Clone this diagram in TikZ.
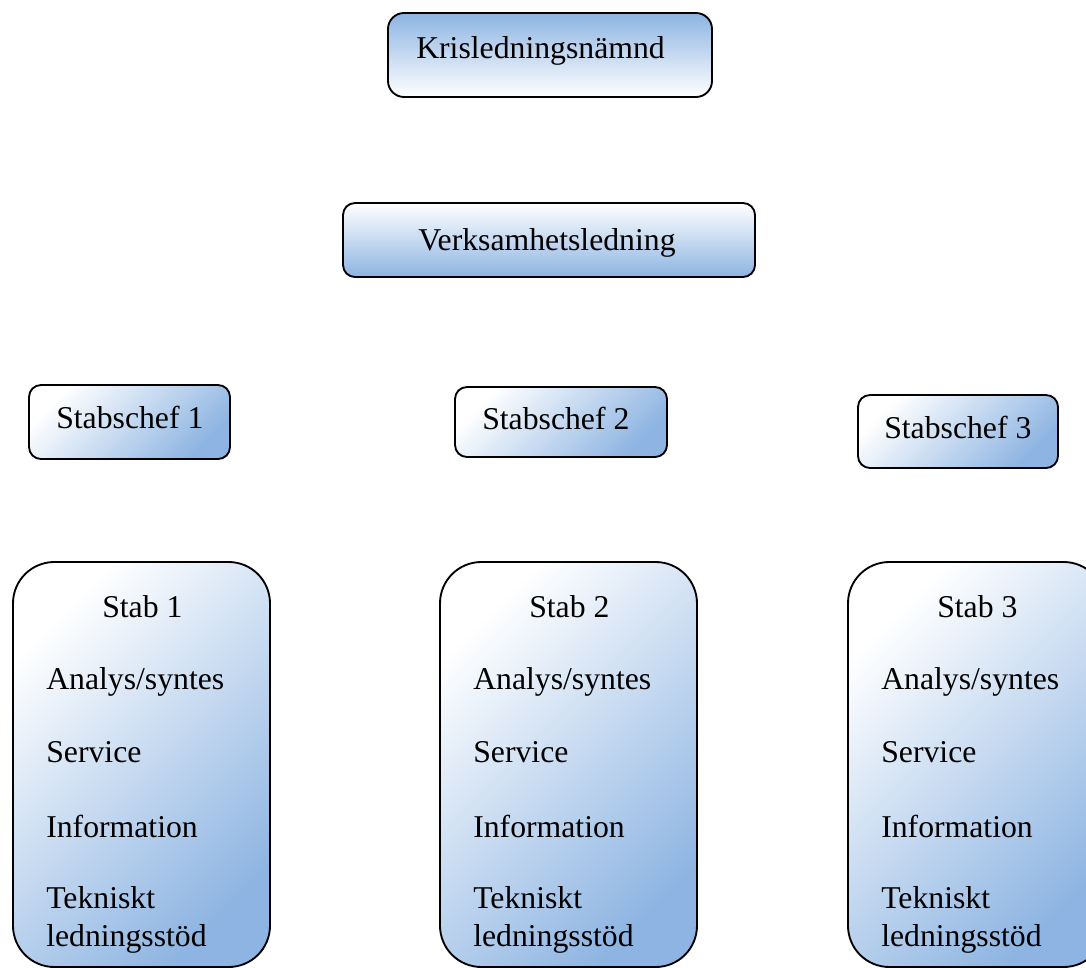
\documentclass[tikz,border=0pt]{standalone}
\usepackage{fontspec}
\setmainfont{Liberation Serif}
\usepackage{xcolor}

\definecolor{boxblue}{RGB}{141,180,226}

\tikzset{
  every node/.style={inner sep=0.75pt, font=\fontsize{23.8}{28}\selectfont},
  box/.style={draw=black, line width=1.4pt},
  boxdown/.style={box, top color=boxblue, bottom color=white},
  boxup/.style={box, top color=white, bottom color=boxblue},
  boxdiag/.style={box, top color=white, bottom color=boxblue, shading angle=45},
}

\begin{document}
\begin{tikzpicture}[x=0.75pt,y=0.75pt,yscale=-1,xscale=1]
        \useasboundingbox (0,0) rectangle (1086,968);
        \clip (0,0) rectangle (1086,968);

        %Shape: Rounded Rect [Krisledningsnämnd]
        \draw[boxdown, rounded corners=12pt] (388,13) rectangle (712,97);
        %Shape: Rounded Rect [Verksamhetsledning]
        \draw[boxup, rounded corners=9pt] (343,203) rectangle (755,277);

        %Shape: Rounded Rect [Stabschef 1-3]
        \draw[boxdiag, rounded corners=9pt] (29,385) rectangle (230,459);
        \draw[boxdiag, rounded corners=9pt] (455,387) rectangle (667,457);
        \draw[boxdiag, rounded corners=9pt] (858,395) rectangle (1058,468);

        % Text Node
        \node[anchor=base west] (kris) at (415,58) {Krisledningsnämnd};
        % Text Node
        \node[anchor=base west] (verk) at (417,250) {Verksamhetsledning};
        % Text Node
        \node[anchor=base west] (chef1) at (55,428) {Stabschef 1};
        % Text Node
        \node[anchor=base west] (chef2) at (481,429) {Stabschef 2};
        % Text Node
        \node[anchor=base west] (chef3) at (883,438) {Stabschef 3};

        %Shape: Rounded Rect [Stab 1-3] and their Text Nodes
        \foreach \i/\x in {1/13, 2/440, 3/848} {
          \draw[boxdiag, rounded corners=31pt] (\x,562) rectangle (\x+257,967);
          \node[anchor=base west] (stab\i) at (\x+88,617) {Stab \i};
          \node[anchor=base west] (ana\i) at (\x+32,689) {Analys/syntes};
          \node[anchor=base west] (serv\i) at (\x+32,762) {Service};
          \node[anchor=base west] (info\i) at (\x+32,837) {Information};
          \node[anchor=base west] (tek\i) at (\x+32,908) {Tekniskt};
          \node[anchor=base west] (led\i) at (\x+32,946) {ledningsstöd};
        }

\end{tikzpicture}
\end{document}
